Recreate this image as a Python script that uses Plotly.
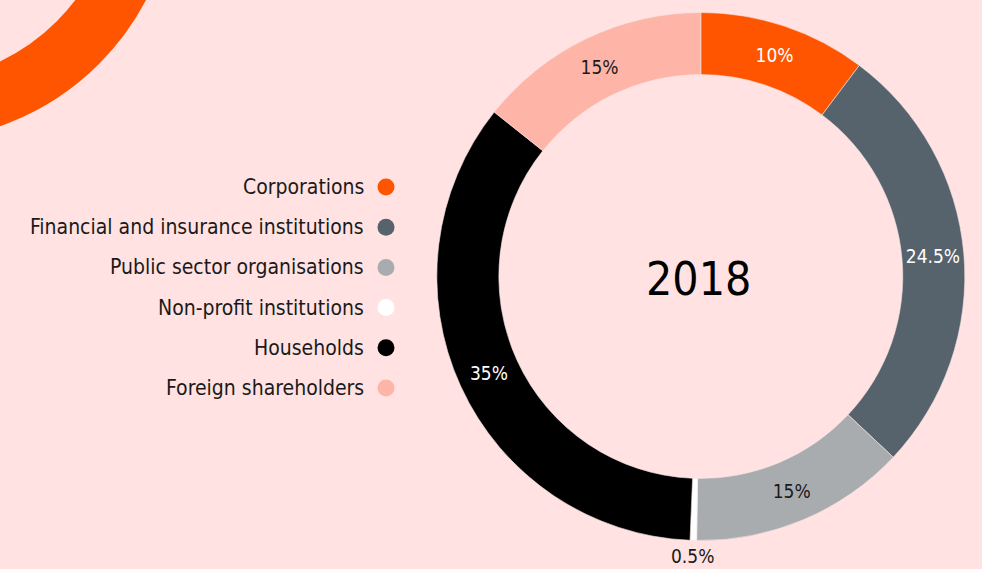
import math
import plotly.graph_objects as go

# ---- data ----
categories = ["Corporations", "Financial and insurance institutions", "Public sector organisations",
              "Non-profit institutions", "Households", "Foreign shareholders"]
shares = [10.25, 26.75, 13.25, 0.4, 35.05, 14.3]          # slice sizes as drawn
share_labels = ["10%", "24.5%", "15%", "0.5%", "35%", "15%"]  # printed labels
colors = ["#FF5500", "#56636D", "#A9ACAE", "#FFFFFF", "#000000", "#FFB4A8"]
label_colors = ["#FFFFFF", "#FFFFFF", "#1A1A1A", "#1A1A1A", "#FFFFFF", "#1A1A1A"]
outside_label = [False, False, False, True, False, False]
year = "2018"

BG = "#FFE2E1"
FONT = "DejaVu Sans Condensed, Liberation Sans Narrow, sans-serif"
W, H = 982, 569

fig = go.Figure()

# main donut
cx, cy, r = 700.8, 276.5, 264
fig.add_trace(go.Pie(
    labels=categories,
    values=shares,
    text=share_labels,
    textinfo="text",
    texttemplate="%{text}",
    textposition=["none" if o else "inside" for o in outside_label],
    insidetextorientation="horizontal",
    textfont=dict(family=FONT, size=19, color=label_colors),
    marker=dict(colors=colors, line=dict(color="#F4E4E4", width=0.6)),
    hole=0.765,
    sort=False,
    direction="clockwise",
    rotation=0,
    showlegend=False,
    hoverinfo="skip",
    domain=dict(x=[(cx - r) / W, (cx + r) / W], y=[1 - (cy + r) / H, 1 - (cy - r) / H]),
))

# outside labels for tiny slices, placed at the slice's mid-angle just beyond the ring
total = sum(shares)
cum = 0.0
for share, lab, out in zip(shares, share_labels, outside_label):
    mid = (cum + share / 2) / total * 2 * math.pi
    cum += share
    if out:
        rr = r + 16
        fig.add_annotation(x=(cx + rr * math.sin(mid)) / W, y=1 - (cy - rr * math.cos(mid)) / H,
                           xref="paper", yref="paper", text=lab, showarrow=False,
                           xanchor="center", yanchor="middle",
                           font=dict(family=FONT, size=19, color="#1A1A1A"))

# legend markers (custom legend: text left of marker)
rows = list(range(len(categories)))
fig.add_trace(go.Scatter(
    x=[0] * len(categories), y=rows, mode="markers",
    marker=dict(size=17, color=colors, line=dict(width=0)),
    showlegend=False, hoverinfo="skip", cliponaxis=False,
))
for i, name in enumerate(categories):
    fig.add_annotation(x=-20, y=i, xref="x", yref="y", text=name, showarrow=False,
                       xanchor="right", yanchor="middle",
                       font=dict(family=FONT, size=21, color="#1A1A1A"))

# centre year label
fig.add_annotation(x=698 / W, y=1 - 279 / H, xref="paper", yref="paper", text=year,
                   showarrow=False, xanchor="center", yanchor="middle",
                   font=dict(family=FONT, size=46, color="#000000"))

# decorative ring in the top-left corner
dcx, dcy, dr = -87, -122, 233
fig.add_shape(type="circle", xref="paper", yref="paper",
              x0=(dcx - dr) / W, x1=(dcx + dr) / W,
              y0=1 - (dcy + dr) / H, y1=1 - (dcy - dr) / H,
              line=dict(color="#FF5500", width=60), fillcolor="rgba(0,0,0,0)", layer="below")

row_px0, row_step, marker_px = 187, 40.2, 386
fig.update_layout(
    width=W, height=H,
    margin=dict(l=0, r=0, t=0, b=0),
    paper_bgcolor=BG, plot_bgcolor="rgba(0,0,0,0)",
    xaxis=dict(domain=[0, 1], range=[-marker_px, W - marker_px], visible=False, fixedrange=True),
    yaxis=dict(domain=[0, 1], range=[(H - row_px0) / row_step, -row_px0 / row_step],
               visible=False, fixedrange=True),
    hovermode=False,
)

fig.write_html("out.html", config={"displayModeBar": False},
               post_script="document.body.style.margin='0';document.body.style.overflow='hidden';")
